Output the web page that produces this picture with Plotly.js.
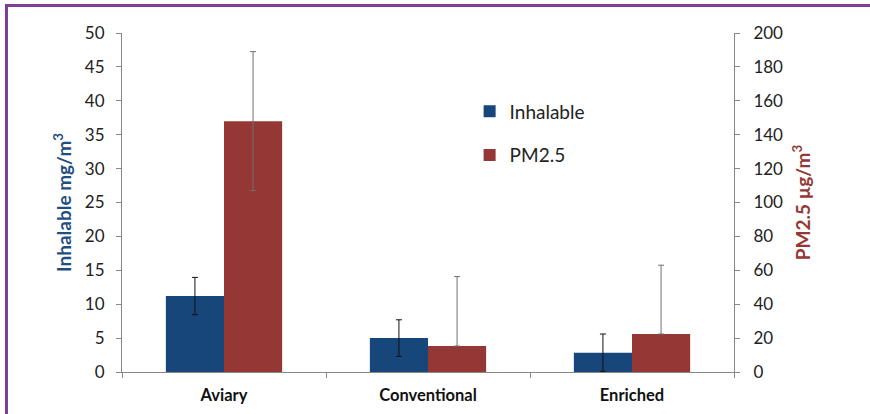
<!DOCTYPE html>
<html>
<head>
<meta charset="utf-8">
<script src="https://cdn.plot.ly/plotly-3.0.1.min.js"></script>
<style>
  body { margin: 0; background: #fff; }
  #wrap { position: relative; width: 870px; height: 414px; }
  #myChart { width: 870px; height: 414px; }
  #frame { position: absolute; left: 5px; top: 4px; right: -10px; bottom: -10px;
           border-left: 3px solid #7f3f98; border-top: 3px solid #7f3f98; pointer-events: none; }
</style>
</head>
<body>
<div id="wrap">
  <div id="myChart"></div>
  <div id="frame"></div>
</div>
<script>
var houses = ['Aviary', 'Conventional', 'Enriched']
var inhalable = [11.2, 5.0, 2.85]
var inhalable_err = [2.75, 2.7, 2.75]
var pm25 = [148, 15.3, 22.4]
var pm25_err_up = [41, 41, 40.6]
var pm25_err_down = [41, 0, 0]

var font_name = 'Lato, "Open Sans", sans-serif'

var Inhalable = {
  x: houses,
  y: inhalable,
  name: 'Inhalable',
  type: 'bar',
  yaxis: 'y',
  offsetgroup: '1',
  legendgroup: 'a',
  marker: {color: '#17467a', line: {color: '#17467a', width: 0}},
  error_y: {type: 'data', array: inhalable_err, visible: true,
            color: '#111', thickness: 1, width: 3}
};

var PM = {
  x: houses,
  y: pm25,
  name: 'PM2.5',
  type: 'bar',
  yaxis: 'y2',
  offsetgroup: '2',
  legendgroup: 'b',
  marker: {color: '#953735', line: {color: '#953735', width: 0}},
  error_y: {type: 'data', symmetric: false, array: pm25_err_up, arrayminus: pm25_err_down,
            visible: true, color: '#6f6f6f', thickness: 1, width: 3}
};

var layout = {
  width: 870,
  height: 414,
  margin: {l: 122, r: 136, t: 33, b: 42},
  paper_bgcolor: '#fff',
  plot_bgcolor: '#fff',
  font: {family: font_name, size: 17, color: '#222'},
  barmode: 'group',
  bargap: 0.43,
  bargroupgap: 0,
  showlegend: true,
  legend: {x: 0.568, y: 0.825, xanchor: 'left', yanchor: 'top',
           font: {size: 19, color: '#222'}, traceorder: 'grouped', tracegroupgap: 16,
           bgcolor: 'rgba(0,0,0,0)'},
  xaxis: {
    type: 'category',
    tickson: 'boundaries',
    ticks: 'outside', ticklen: 5, tickcolor: '#888',
    showline: true, linecolor: '#888', linewidth: 1,
    showgrid: false, zeroline: false,
    ticklabelstandoff: 8,
    tickfont: {size: 16.5, color: '#111', weight: 'bold'}
  },
  yaxis: {
    range: [0, 50], dtick: 5,
    ticks: 'outside', ticklen: 5, tickcolor: '#888',
    showline: true, linecolor: '#888', linewidth: 1,
    showgrid: false, zeroline: false,
    ticklabelstandoff: 8,
    tickfont: {size: 17, color: '#222'},
    title: {text: 'Inhalable mg/m<sup>3</sup>', standoff: 8,
            font: {size: 19, color: '#1f4e80', weight: 'bold'}}
  },
  yaxis2: {
    range: [0, 200], dtick: 20,
    overlaying: 'y', side: 'right',
    ticks: 'outside', ticklen: 5, tickcolor: '#888',
    showline: true, linecolor: '#888', linewidth: 1,
    showgrid: false, zeroline: false,
    ticklabelstandoff: 10,
    tickfont: {size: 17, color: '#222'},
    title: {text: 'PM2.5 µg/m<sup>3</sup>', standoff: 14,
            font: {size: 19, color: '#953735', weight: 'bold'}}
  }
};

Plotly.newPlot('myChart', [Inhalable, PM], layout, {displayModeBar: false, staticPlot: true});
</script>
</body>
</html>
